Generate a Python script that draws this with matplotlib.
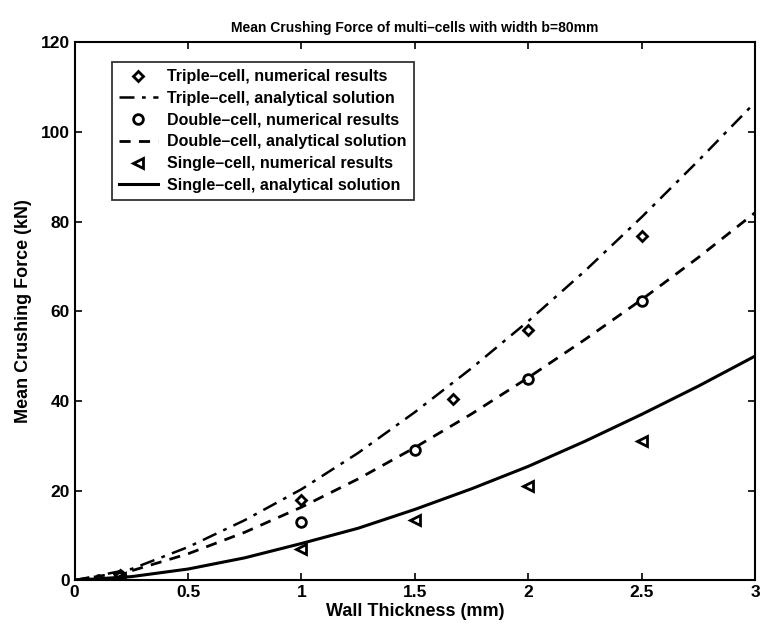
import matplotlib
matplotlib.use("Agg")
import matplotlib.pyplot as plt

plt.rcParams['font.family'] = ['Liberation Sans', 'DejaVu Sans']
plt.rcParams['font.weight'] = 'bold'

# analytical curves
t_curve = [0, 0.25, 0.5, 0.75, 1.0, 1.25, 1.5, 1.75, 2.0, 2.25, 2.5, 2.75, 3.0]
triple_curve = [0, 2.5, 7.4, 13.4, 20.3, 28.4, 37.5, 47.3, 57.8, 69.0, 81.0, 93.6, 106.6]
double_curve = [0, 2.1, 5.9, 10.7, 16.3, 22.6, 29.6, 37.1, 45.2, 53.7, 62.6, 72.0, 82.0]
single_curve = [0, 0.8, 2.5, 5.0, 8.2, 11.6, 15.8, 20.4, 25.4, 31.0, 37.0, 43.3, 50.0]

# numerical results
t_triple = [0.2, 1.0, 1.667, 2.0, 2.5]
triple_num = [1.2, 18.0, 40.4, 55.8, 76.8]
t_double = [0.2, 1.0, 1.5, 2.0, 2.5]
double_num = [1.0, 13.0, 29.0, 44.8, 62.2]
t_single = [0.2, 1.0, 1.5, 2.0, 2.5]
single_num = [0.5, 7.0, 13.5, 21.0, 31.0]

fig = plt.figure(figsize=(7.62, 6.30), dpi=100)
ax = fig.add_axes([0.098, 0.079, 0.893, 0.854])

ax.plot(t_triple, triple_num, linestyle='none', marker='D', markersize=5.5,
        markerfacecolor='none', markeredgecolor='black', markeredgewidth=2.0,
        label='Triple\u2013cell, numerical results')
ax.plot(t_curve, triple_curve, color='black', lw=1.8, dashes=(6, 3, 1.5, 3),
        label='Triple\u2013cell, analytical solution')
ax.plot(t_double, double_num, linestyle='none', marker='o', markersize=7,
        markerfacecolor='none', markeredgecolor='black', markeredgewidth=2.0,
        label='Double\u2013cell, numerical results')
ax.plot(t_curve, double_curve, color='black', lw=2.0, dashes=(4, 3),
        label='Double\u2013cell, analytical solution')
ax.plot(t_single, single_num, linestyle='none', marker='<', markersize=7,
        markerfacecolor='none', markeredgecolor='black', markeredgewidth=2.0,
        label='Single\u2013cell, numerical results')
ax.plot(t_curve, single_curve, color='black', lw=2.2,
        label='Single\u2013cell, analytical solution')

ax.set_xlim(0, 3)
ax.set_ylim(0, 120)
ax.set_xticks([0, 0.5, 1, 1.5, 2, 2.5, 3])
ax.set_xticklabels(['0', '0.5', '1', '1.5', '2', '2.5', '3'])
ax.set_yticks([0, 20, 40, 60, 80, 100, 120])
ax.tick_params(direction='in', top=True, right=True, labelsize=12.5, length=5, width=1.2)
for s in ax.spines.values():
    s.set_linewidth(1.5)

ax.set_xlabel('Wall Thickness (mm)', fontsize=13, fontweight='bold', labelpad=2)
ax.set_ylabel('Mean Crushing Force (kN)', fontsize=13, fontweight='bold', labelpad=6)
ax.set_title('Mean Crushing Force of multi\u2013cells with width b=80mm', fontsize=10,
             fontweight='bold', pad=7)

leg = ax.legend(loc='upper left', bbox_to_anchor=(0.055, 0.963), fontsize=11.5,
                frameon=True, fancybox=False, edgecolor='black', handlelength=2.4,
                borderpad=0.45, labelspacing=0.42, handletextpad=0.6, borderaxespad=0)
leg.get_frame().set_linewidth(1.3)

fig.savefig('out.png', dpi=100)
